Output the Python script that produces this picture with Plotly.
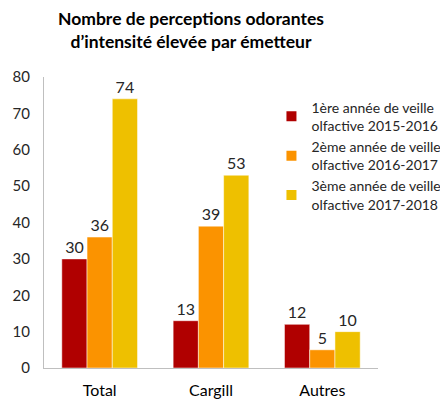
import plotly.graph_objects as go

categories = ["Total", "Cargill", "Autres"]
series_names = [
    "1ère année de veille<br>olfactive 2015-2016",
    "2ème année de veille<br>olfactive 2016-2017",
    "3ème année de veille<br>olfactive 2017-2018",
]
values_y1 = [30, 13, 12]
values_y2 = [36, 39, 5]
values_y3 = [74, 53, 10]
colors = ["#B00000", "#FB9300", "#EEC000"]
y_ticks = [0, 10, 20, 30, 40, 50, 60, 70, 80]

FONT = "Lato, 'Open Sans', sans-serif"

fig = go.Figure()
for name, vals, col in zip(series_names, [values_y1, values_y2, values_y3], colors):
    fig.add_trace(go.Bar(
        x=categories, y=vals, name=name,
        marker=dict(color=col, line=dict(color="white", width=0.5)),
        text=[str(v) for v in vals], textposition="outside",
        textfont=dict(size=16, color="#262626", family=FONT),
        cliponaxis=False,
    ))

fig.add_annotation(
    text="<b>Nombre de perceptions odorantes<br>d’intensité élevée par émetteur</b>",
    xref="paper", yref="paper", x=0.44, y=1.242, xanchor="center", yanchor="top",
    showarrow=False, borderpad=0,
    font=dict(size=17.5, color="#000000", family=FONT),
)

# page body adds an 8px margin, so the figure is sized 8px smaller
fig.update_layout(
    width=440, height=393,
    margin=dict(l=36, r=70, t=69, b=33, autoexpand=False),
    paper_bgcolor="white", plot_bgcolor="white",
    barmode="group", bargap=0.32, bargroupgap=0,
    font=dict(family=FONT, color="#262626"),
    legend=dict(
        x=0.681, xanchor="left", y=0.95, yanchor="top",
        font=dict(size=14, color="#262626", family=FONT),
        bgcolor="rgba(0,0,0,0)", tracegroupgap=0, itemsizing="constant",
        itemwidth=30,
    ),
    showlegend=True,
)
fig.update_yaxes(
    range=[0, 80], tickvals=y_ticks, showgrid=False,
    showline=True, linecolor="#BFBFBF", linewidth=1,
    ticks="", tickfont=dict(size=15, color="#262626"),
    zeroline=False, ticklabelstandoff=10, automargin=False,
)
fig.update_xaxes(
    showline=True, linecolor="#BFBFBF", linewidth=1,
    ticks="", tickfont=dict(size=16, color="#000000"),
    showgrid=False, ticklabelstandoff=8, automargin=False,
)

fig.write_html("out.html")
